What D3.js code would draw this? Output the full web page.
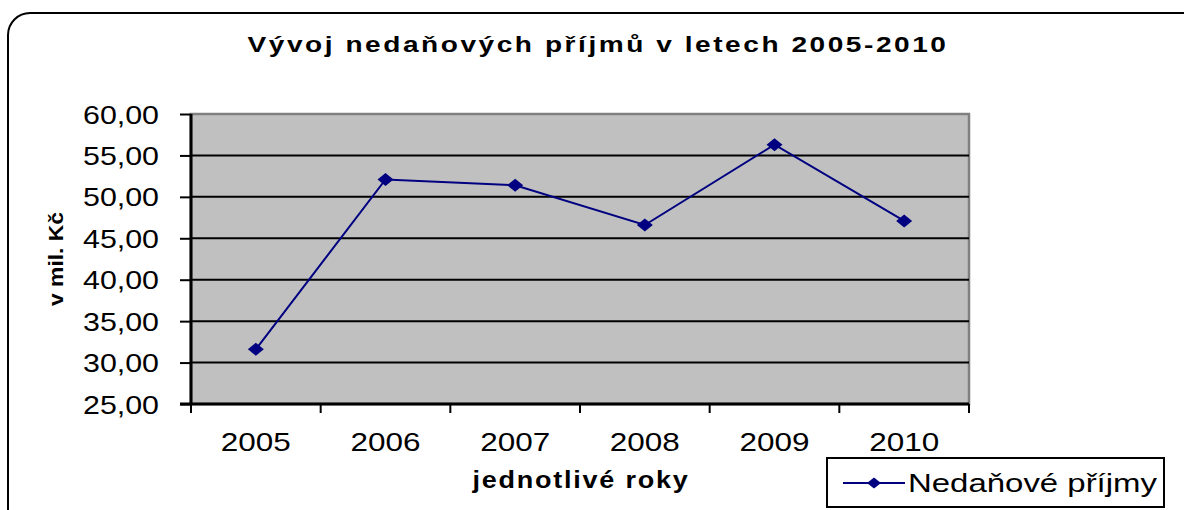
<!DOCTYPE html>
<html>
<head>
<meta charset="utf-8">
<script src="https://cdn.jsdelivr.net/npm/d3@7"></script>
<style>
  body { margin: 0; background: #fff; }
  text { font-family: "Liberation Sans", Arial, sans-serif; fill: #000; }
</style>
</head>
<body>
<script>
// data
var years = ['2005', '2006', '2007', '2008', '2009', '2010'];
var values = [31.6, 52.1, 51.4, 46.6, 56.3, 47.1];
var yTicks = [25, 30, 35, 40, 45, 50, 55, 60];

var W = 1184, H = 510;
var pLeft = 191, pRight = 969, pTop = 114, pBottom = 404;

var svg = d3.select('body').append('svg')
  .attr('width', W)
  .attr('height', H);

// chart frame (runs off the right and bottom edge)
svg.append('rect')
  .attr('x', 8).attr('y', 13)
  .attr('width', 1200).attr('height', 520)
  .attr('rx', 22).attr('ry', 22)
  .style('fill', 'none').style('stroke', '#000').style('stroke-width', 2);

var x = d3.scaleBand().domain(years).range([pLeft, pRight]);
var y = d3.scaleLinear().domain([25, 60]).range([pBottom, pTop]);

// plot area
svg.append('rect')
  .attr('x', pLeft).attr('y', pTop)
  .attr('width', pRight - pLeft).attr('height', pBottom - pTop)
  .style('fill', '#c0c0c0')
  .style('stroke', '#808080').style('stroke-width', 2.5);

// gridlines
svg.append('g').selectAll('line')
  .data(yTicks.slice(1, -1))
  .enter().append('line')
  .attr('x1', pLeft).attr('x2', pRight)
  .attr('y1', function(d) { return y(d); })
  .attr('y2', function(d) { return y(d); })
  .style('stroke', '#000').style('stroke-width', 2);

// y axis
var fmt = function(d) { return d3.format('.2f')(d).replace('.', ','); };
var yAxis = svg.append('g')
  .attr('transform', 'translate(' + pLeft + ',0)')
  .call(d3.axisLeft(y).tickValues(yTicks).tickSize(11).tickPadding(21).tickFormat(fmt));
yAxis.select('.domain').style('stroke-width', 3).attr('d', 'M0,' + pTop + 'V' + pBottom);
yAxis.selectAll('.tick line').style('stroke-width', 2);
yAxis.selectAll('text')
  .style('font-size', '25px')
  .attr('dy', '0.36em')
  .attr('textLength', 76).attr('lengthAdjust', 'spacingAndGlyphs');

// x axis, ticks between categories
var xAxis = svg.append('g')
  .attr('transform', 'translate(0,' + pBottom + ')');
xAxis.append('line')
  .attr('x1', pLeft - 11).attr('x2', pRight)
  .style('stroke', '#000').style('stroke-width', 3);
var bounds = years.map(function(d) { return x(d); }).concat([pRight]);
xAxis.selectAll('.tk').data(bounds).enter().append('line')
  .attr('x1', function(d) { return d; }).attr('x2', function(d) { return d; })
  .attr('y1', 0).attr('y2', 9)
  .style('stroke', '#000').style('stroke-width', 2);
xAxis.selectAll('text').data(years).enter().append('text')
  .attr('x', function(d) { return x(d) + x.bandwidth() / 2; })
  .attr('y', 47)
  .attr('text-anchor', 'middle')
  .style('font-size', '25px')
  .attr('textLength', 70).attr('lengthAdjust', 'spacingAndGlyphs')
  .text(function(d) { return d; });

// line + diamond markers
var cx = function(i) { return x(years[i]) + x.bandwidth() / 2; };
var line = d3.line()
  .x(function(d, i) { return cx(i); })
  .y(function(d) { return y(d); });

svg.append('path')
  .datum(values)
  .attr('d', line)
  .style('fill', 'none').style('stroke', '#000080').style('stroke-width', 2);

function diamond(w, h) {
  return 'M0,' + (-h) + 'L' + w + ',0L0,' + h + 'L' + (-w) + ',0Z';
}
svg.selectAll('.pt').data(values).enter().append('path')
  .attr('transform', function(d, i) { return 'translate(' + cx(i) + ',' + y(d) + ')'; })
  .attr('d', diamond(8, 6.5))
  .style('fill', '#000080');

// titles
svg.append('text')
  .attr('x', 598).attr('y', 52)
  .attr('text-anchor', 'middle')
  .style('font-size', '22px').style('font-weight', 'bold')
  .style('letter-spacing', '2px')
  .attr('textLength', 701).attr('lengthAdjust', 'spacingAndGlyphs')
  .text('Vývoj nedaňových příjmů v letech 2005-2010');

svg.append('text')
  .attr('transform', 'translate(63,259) rotate(-90)')
  .attr('text-anchor', 'middle')
  .style('font-size', '21px').style('font-weight', 'bold')
  .attr('textLength', 94).attr('lengthAdjust', 'spacingAndGlyphs')
  .text('v mil. Kč');

svg.append('text')
  .attr('x', 581).attr('y', 488)
  .attr('text-anchor', 'middle')
  .style('font-size', '23px').style('font-weight', 'bold')
  .style('letter-spacing', '1.5px')
  .attr('textLength', 217).attr('lengthAdjust', 'spacingAndGlyphs')
  .text('jednotlivé roky');

// legend
var lg = svg.append('g').attr('transform', 'translate(827,458)');
lg.append('rect')
  .attr('width', 337).attr('height', 49)
  .style('fill', '#fff').style('stroke', '#000').style('stroke-width', 2);
lg.append('line')
  .attr('x1', 16).attr('x2', 78).attr('y1', 25).attr('y2', 25)
  .style('stroke', '#000080').style('stroke-width', 2);
lg.append('path')
  .attr('transform', 'translate(47,25)')
  .attr('d', diamond(7, 5.5))
  .style('fill', '#000080');
lg.append('text')
  .attr('x', 81).attr('y', 34)
  .style('font-size', '25px')
  .attr('textLength', 249).attr('lengthAdjust', 'spacingAndGlyphs')
  .text('Nedaňové příjmy');
</script>
</body>
</html>
